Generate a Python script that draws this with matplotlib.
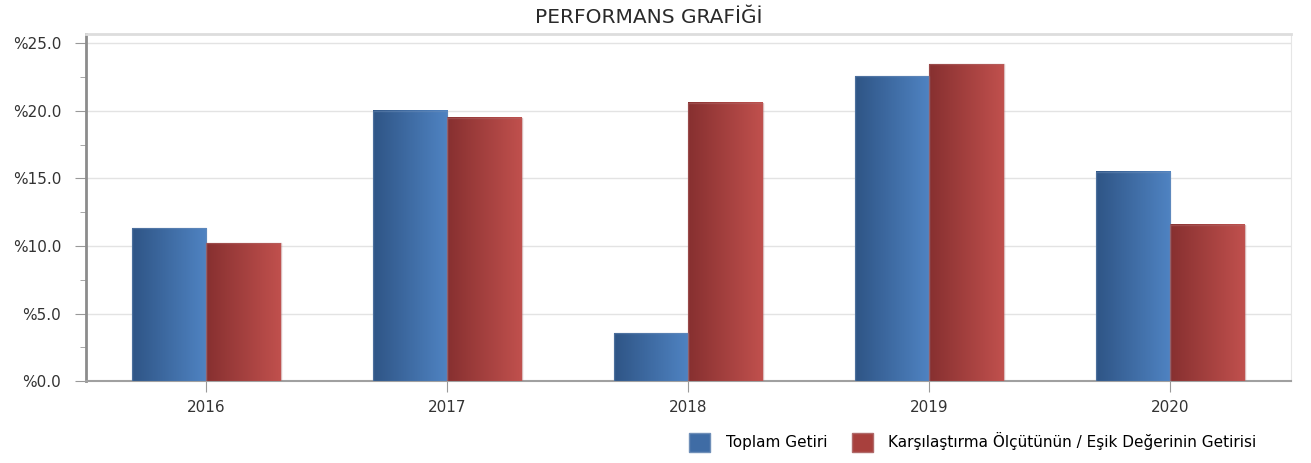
import numpy as np
import matplotlib
matplotlib.use("Agg")
import matplotlib.pyplot as plt
from matplotlib.colors import LinearSegmentedColormap
from matplotlib.patches import Rectangle

plt.rcParams.update({
    "font.family": "DejaVu Sans",
    "font.size": 11,
})

years = ["2016", "2017", "2018", "2019", "2020"]
toplam = [11.3, 20.0, 3.55, 22.55, 15.5]
esik = [10.2, 19.5, 20.6, 23.45, 11.55]
series_names = ["Toplam Getiri", "Karşılaştırma Ölçütünün / Eşik Değerinin Getirisi"]
yticks = [0, 5, 10, 15, 20, 25]

blue_cmap = LinearSegmentedColormap.from_list("b", ["#2f5586", "#4f83c2"])
red_cmap = LinearSegmentedColormap.from_list("r", ["#873030", "#c0504d"])

fig = plt.figure(figsize=(13.11, 4.63), dpi=100)
ax = fig.add_axes([0.0656, 0.177, 0.919, 0.749])

x = np.arange(len(years))
w = 0.31
grad = np.linspace(0, 1, 64).reshape(1, -1)

def gradient_bars(xs, vals, cmap, edge):
    for xi, v in zip(xs, vals):
        ax.imshow(grad, cmap=cmap, extent=[xi, xi + w, 0, v], aspect="auto",
                  zorder=3, interpolation="bilinear")
        ax.add_patch(Rectangle((xi, 0), w, v, fill=False, edgecolor=edge,
                               linewidth=1.0, alpha=0.45, zorder=4))

gradient_bars(x - w, toplam, blue_cmap, "#6f8fb8")
gradient_bars(x, esik, red_cmap, "#b06a6a")

ax.set_xlim(-0.5, len(years) - 0.5)
ax.set_ylim(0, 25.67)
ax.set_xticks(x)
ax.set_xticklabels(years, color="#333333")
ax.set_yticks(yticks)
ax.set_yticklabels([f"%{v:.1f}" for v in yticks], color="#333333")
ax.set_yticks(np.arange(2.5, 25, 5), minor=True)
ax.tick_params(axis="y", which="major", length=8, color="#999999", pad=10)
ax.tick_params(axis="y", which="minor", length=4, color="#999999")
ax.tick_params(axis="x", which="major", length=8, color="#999999", pad=6)
ax.grid(axis="y", which="major", color="#e3e3e3", linewidth=1, zorder=0)
ax.set_axisbelow(True)

ax.spines["left"].set_color("#8c8c8c")
ax.spines["left"].set_linewidth(2)
ax.spines["bottom"].set_color("#a0a0a0")
ax.spines["bottom"].set_linewidth(1.5)
ax.spines["top"].set_color("#dddddd")
ax.spines["top"].set_linewidth(2)
ax.spines["right"].set_color("#e6e6e6")

fig.text(0.495, 0.963, "PERFORMANS GRAFİĞİ", ha="center", va="center",
         fontsize=14.5, color="#2a2a2a")

handles = [
    Rectangle((0, 0), 1, 1, facecolor="#3f6ca5", edgecolor="#6f8fb8"),
    Rectangle((0, 0), 1, 1, facecolor="#a8403d", edgecolor="#b06a6a"),
]
fig.legend(handles, series_names, loc="lower right", bbox_to_anchor=(0.969, -0.005),
           ncol=2, frameon=False, fontsize=11, handlelength=1.4,
           handleheight=1.5, handletextpad=1.0, columnspacing=1.6)

fig.savefig("out.png", dpi=100)
